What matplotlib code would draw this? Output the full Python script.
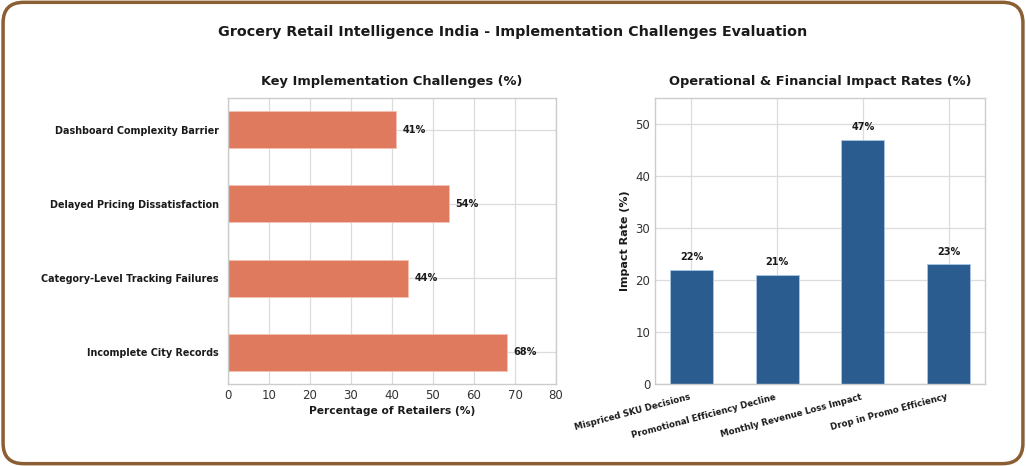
import matplotlib.pyplot as plt
from matplotlib.patches import FancyBboxPatch

challenges = ['Incomplete City Records', 'Category-Level Tracking Failures',
              'Delayed Pricing Dissatisfaction', 'Dashboard Complexity Barrier']
challenge_pct = [68, 44, 54, 41]

impacts = ['Mispriced SKU Decisions', 'Promotional Efficiency Decline',
           'Monthly Revenue Loss Impact', 'Drop in Promo Efficiency']
impact_pct = [22, 21, 47, 23]


def style_ax(ax):
    ax.set_facecolor('white')
    ax.grid(True, color='#dcdcdc', linewidth=0.9)
    ax.set_axisbelow(True)
    for s in ax.spines.values():
        s.set_color('#cccccc')
        s.set_linewidth(1.0)
    ax.tick_params(length=0, labelsize=8.5, colors='#333333')


def main():
    fig = plt.figure(figsize=(10.26, 4.66), dpi=100)
    fig.patch.set_facecolor('white')

    border = FancyBboxPatch((0.003, 0.005), 0.994, 0.99,
                            boxstyle='round,pad=0,rounding_size=0.02',
                            transform=fig.transFigure, facecolor='white',
                            edgecolor='#8B5E34', linewidth=2.5, zorder=-1,
                            mutation_aspect=1026 / 466)
    fig.patches.append(border)

    fig.text(0.5, 0.932, 'Grocery Retail Intelligence India - Implementation Challenges Evaluation',
             ha='center', va='center', fontsize=10.3, fontweight='bold', color='#1a1a1a')

    # left: horizontal bars
    ax1 = fig.add_axes([228 / 1026, 1 - 384 / 466, 328 / 1026, 286 / 466])
    style_ax(ax1)
    ax1.barh(range(len(challenges)), challenge_pct, height=0.5, color='#E07A5F',
             edgecolor='#f3c2b3', linewidth=0.6)
    ax1.set_yticks(range(len(challenges)))
    ax1.set_yticklabels(challenges, fontweight='bold', fontsize=6.9, color='#1a1a1a')
    ax1.tick_params(axis='y', pad=6.8)
    ax1.set_xlim(0, 80)
    ax1.set_xticks(range(0, 81, 10))
    for i, v in enumerate(challenge_pct):
        ax1.text(v + 1.5, i, f'{v}%', va='center', ha='left', fontsize=7,
                 fontweight='bold', color='#1a1a1a')
    ax1.set_xlabel('Percentage of Retailers (%)', fontsize=7.7, fontweight='bold',
                   color='#1a1a1a', labelpad=3)
    ax1.set_title('Key Implementation Challenges (%)', fontsize=9.4, fontweight='bold',
                  color='#1a1a1a', pad=9)

    # right: vertical bars
    ax2 = fig.add_axes([655 / 1026, 1 - 384 / 466, 330 / 1026, 286 / 466])
    style_ax(ax2)
    ax2.bar(range(len(impacts)), impact_pct, width=0.5, color='#2B5C8F',
            edgecolor='#a9c8e6', linewidth=0.6)
    ax2.set_xticks(range(len(impacts)))
    ax2.set_xticklabels(impacts, rotation=15, ha='right', fontsize=6.2,
                        fontweight='bold', color='#1a1a1a')
    ax2.tick_params(axis='x', pad=6)
    ax2.set_ylim(0, 55)
    ax2.set_yticks(range(0, 51, 10))
    for i, v in enumerate(impact_pct):
        ax2.text(i, v + 1.5, f'{v}%', ha='center', va='bottom', fontsize=7,
                 fontweight='bold', color='#1a1a1a')
    ax2.set_ylabel('Impact Rate (%)', fontsize=8, fontweight='bold', color='#1a1a1a')
    ax2.set_title('Operational & Financial Impact Rates (%)', fontsize=9.4,
                  fontweight='bold', color='#1a1a1a', pad=9)

    plt.savefig('out.png', dpi=100, facecolor=fig.get_facecolor())


if __name__ == '__main__':
    main()
